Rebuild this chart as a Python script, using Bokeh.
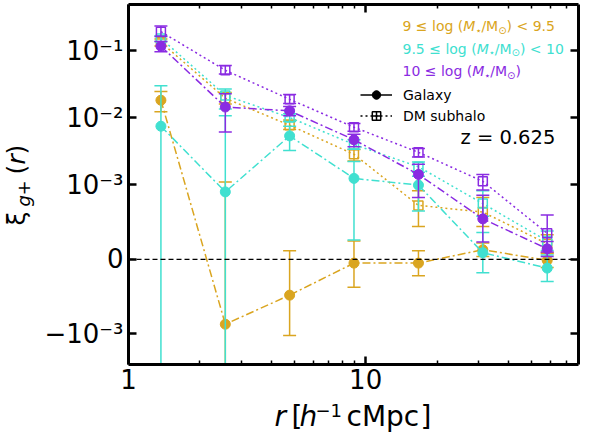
import numpy as np
from bokeh.plotting import figure
from bokeh.layouts import row, column
from bokeh.models import (ColumnDataSource, FixedTicker, LogAxis, LinearAxis, Label,
                          Legend, LegendItem, Span, Range1d, CustomJSTickFormatter)
from bokeh.embed import file_html
from bokeh.resources import INLINE

# separation bins, h^-1 cMpc
r = [1.37, 2.56, 4.78, 8.93, 16.7, 31.2, 58.3]

# 9 <= log M* < 9.5
gold_gal = [0.0183, -0.00087, -0.00048, -0.00005, -0.00005, 0.00013, -0.000013]
gold_gal_lo = [0.0123, -0.00284, -0.00106, -0.000375, -0.00022, 0.00004, -0.00011]
gold_gal_hi = [0.0247, 0.0011, 0.000117, 0.000246, 0.000117, 0.00022, 0.00008]
gold_dm = [0.134, 0.0196, 0.00774, 0.00286, 0.000725, 0.000635, 0.00021]
gold_dm_lo = [0.118, 0.0161, 0.0067, 0.00228, 0.00044, 0.00044, 0.00009]
gold_dm_hi = [0.150, 0.0239, 0.0093, 0.00338, 0.00092, 0.00083, 0.00033]

# 9.5 <= log M* < 10
turq_gal = [0.0075, 0.000906, 0.00538, 0.00125, 0.000997, 0.00009, -0.000117]
turq_gal_lo = [-0.0151, -0.0083, 0.00327, 0.00026, 0.00065, -0.00018, -0.000298]
turq_gal_hi = [0.0301, 0.0107, 0.0075, 0.00224, 0.00135, 0.00036, 0.00006]
turq_dm = [0.153, 0.0216, 0.0101, 0.0040, 0.00186, 0.00075, 0.000246]
turq_dm_lo = [0.138, 0.0135, 0.0088, 0.0034, 0.00155, 0.00058, 0.00012]
turq_dm_hi = [0.168, 0.027, 0.0115, 0.0047, 0.0022, 0.00092, 0.00038]

# 10 <= log M*
purp_gal = [0.117, 0.0145, 0.0127, 0.00471, 0.00143, 0.000544, 0.000142]
purp_gal_lo = [0.097, 0.00614, 0.0107, 0.0037, 0.00083, 0.000233, 0.00004]
purp_gal_hi = [0.137, 0.0229, 0.0147, 0.0057, 0.00203, 0.00086, 0.00024]
purp_dm = [0.193, 0.0512, 0.0189, 0.00724, 0.00306, 0.00113, 0.00035]
purp_dm_lo = [0.163, 0.0449, 0.0163, 0.0063, 0.0026, 0.00093, 0.0001]
purp_dm_hi = [0.235, 0.0604, 0.0222, 0.0082, 0.0035, 0.00143, 0.000596]

ytick_vals = [-1e-3, 0, 1e-3, 1e-2, 1e-1]
ytick_text = ["−10⁻³", "0", "10⁻³", "10⁻²", "10⁻¹"]

GOLD = "#DAA520"
TURQ = "#40E0D0"
PURP = "#8A2BE2"
FONT = "DejaVu Sans"

LINTHRESH = 1e-3
LINSCALE = 1.0 / (1.0 - 1.0 / 10.0)


def symlog(v):
    # same as matplotlib's symlog (base 10, linthresh 1e-3, linscale 1)
    v = np.asarray(v, dtype=float)
    a = np.abs(v)
    big = np.sign(v) * (LINSCALE + np.log10(np.maximum(a, LINTHRESH) / LINTHRESH))
    return np.where(a <= LINTHRESH, v / LINTHRESH * LINSCALE, big)


p = figure(width=542, height=400, x_axis_type="log",
           x_range=Range1d(1, 79),
           y_range=Range1d(float(symlog(-2.86e-3)), float(symlog(0.49))),
           output_backend="svg", toolbar_location=None,
           min_border_left=88, min_border_right=4, min_border_top=4, min_border_bottom=36)
p.grid.visible = False
p.outline_line_color = None

xticker = FixedTicker(ticks=[1, 10], minor_ticks=[2, 3, 4, 5, 6, 7, 8, 9, 20, 30, 40, 50, 60, 70])
ypos = [float(t) for t in symlog(ytick_vals)]
yticker = FixedTicker(ticks=ypos, minor_ticks=[])
yfmt = CustomJSTickFormatter(args=dict(pos=ypos, lab=ytick_text), code="""
for (let i = 0; i < pos.length; i++) { if (Math.abs(tick - pos[i]) < 1e-6) { return lab[i] } }
return ""
""")
xfmt = CustomJSTickFormatter(code="return String(Math.round(tick))")
blank = CustomJSTickFormatter(code="return ''")

p.add_layout(LogAxis(), "above")
p.add_layout(LinearAxis(), "right")
for ax in p.xaxis:
    ax.ticker = xticker
    ax.formatter = xfmt
for ax in p.yaxis:
    ax.ticker = yticker
    ax.formatter = yfmt
for ax in p.axis:
    ax.axis_line_width = 3
    ax.major_tick_in = 8
    ax.major_tick_out = 0
    ax.major_tick_line_width = 2.5
    ax.minor_tick_in = 4
    ax.minor_tick_out = 0
    ax.minor_tick_line_width = 1.5
    ax.major_label_text_font = FONT
    ax.major_label_text_font_size = "26px"
    ax.major_label_text_color = "black"
    ax.major_label_standoff = 5
p.above[0].formatter = blank
p.above[0].major_label_standoff = 0
p.right[0].formatter = blank
p.right[0].major_label_standoff = 0
p.below[0].major_label_standoff = 4

p.add_layout(Span(location=0, dimension="width", line_color="black", line_dash="5 3", line_width=1.3))


def series(ys, lo, hi, color, galaxy):
    src = ColumnDataSource(dict(x=r, y=symlog(ys), lo=symlog(lo), hi=symlog(hi)))
    dash = "8 3 2 3" if galaxy else "2 3"
    p.line("x", "y", source=src, line_color=color, line_width=1.5, line_dash=dash)
    p.segment("x", "lo", "x", "hi", source=src, line_color=color, line_width=1.5)
    p.scatter("x", "lo", source=src, marker="dash", size=13, line_color=color, line_width=1.5)
    p.scatter("x", "hi", source=src, marker="dash", size=13, line_color=color, line_width=1.5)
    if galaxy:
        p.scatter("x", "y", source=src, marker="circle", size=10, fill_color=color, line_color=color)
    else:
        p.scatter("x", "y", source=src, marker="square", size=9, fill_alpha=0,
                  line_color=color, line_width=1.5)


series(gold_gal, gold_gal_lo, gold_gal_hi, GOLD, True)
series(gold_dm, gold_dm_lo, gold_dm_hi, GOLD, False)
series(turq_gal, turq_gal_lo, turq_gal_hi, TURQ, True)
series(turq_dm, turq_dm_lo, turq_dm_hi, TURQ, False)
series(purp_gal, purp_gal_lo, purp_gal_hi, PURP, True)
series(purp_dm, purp_dm_lo, purp_dm_hi, PURP, False)

# legend handles (black proxies, nothing drawn in the frame)
proxy = ColumnDataSource(dict(x=[1.0], y=[np.nan]))
gl = p.line("x", "y", source=proxy, line_color="black", line_width=1.5)
gb = p.scatter("x", "y", source=proxy, marker="cross", line_color="black", line_width=1.5)
gc = p.scatter("x", "y", source=proxy, marker="circle", fill_color="black", line_color="black")
dl = p.line("x", "y", source=proxy, line_color="black", line_width=1.5, line_dash="2 3")
db = p.scatter("x", "y", source=proxy, marker="cross", line_color="black", line_width=1.5)
ds = p.scatter("x", "y", source=proxy, marker="square", fill_alpha=0, line_color="black", line_width=1.5)
leg = Legend(items=[LegendItem(label="Galaxy", renderers=[gl, gb, gc]),
                    LegendItem(label="DM subhalo", renderers=[dl, db, ds])],
             location=(232, 238), padding=0, margin=0, spacing=0,
             glyph_width=32, glyph_height=21, label_height=21, label_standoff=11,
             label_text_font=FONT, label_text_font_size="14px", label_text_color="black",
             border_line_alpha=0, background_fill_alpha=0)
p.add_layout(leg)

W = {' ': .318, '.': .318, '≤': .838, '<': .838, '(': .39, ')': .39, '/': .337,
     'M': .863, 'l': .278, 'o': .612, 'g': .635, '⋆': .6, '⊙': .838}
DROP = 0.3  # bokeh sets the alphabetic baseline this much (x font size) under the anchor


def tw(s, size):
    return sum(W.get(c, .636) for c in s) * size


def put(fig, text, x, y, size, color="black", style="normal", angle=0.0, baseline="alphabetic"):
    fig.add_layout(Label(x=x, y=y, x_units="screen", y_units="screen", text=text,
                         text_font=FONT, text_font_size=f"{size}px", text_font_style=style,
                         text_color=color, angle=angle, text_align="left", text_baseline=baseline))


def rich(pieces, x, y, color):
    for txt, size, style, dy in pieces:
        put(p, txt, x, y + dy + DROP * size, size, color, style)
        x += tw(txt, size)


mass_labels = [("9 ≤ log (", ") < 9.5", GOLD, 334),
               ("9.5 ≤ log (", ") < 10", TURQ, 311.6),
               ("10 ≤ log (", ")", PURP, 289.3)]
for pre, post, col, yb in mass_labels:
    rich([(pre, 14, "normal", 0), ("M", 14, "italic", 0), ("⋆", 10, "normal", -3),
          ("/M", 14, "normal", 0), ("⊙", 10, "normal", -3), (post, 14, "normal", 0)],
         274, yb, col)

put(p, "z = 0.625", 332, 227, 19.5, baseline="middle")


def text_strip(w, h):
    # plain canvas that only carries an axis title
    f = figure(width=w, height=h, x_range=Range1d(0, w), y_range=Range1d(0, h),
               x_axis_location=None, y_axis_location=None, min_border=0,
               output_backend="svg", toolbar_location=None)
    f.grid.visible = False
    f.outline_line_color = None
    return f


# y label, rotated (baseline at x=23, subscript at x=28)
ylab = text_strip(40, 432)
rot = np.pi / 2
put(ylab, "ξ", 23 - DROP * 25, 207, 25, angle=rot)
put(ylab, "g", 28 - DROP * 18, 226, 18, style="italic", angle=rot)
put(ylab, "+", 28 - DROP * 18, 237, 18, angle=rot)
put(ylab, "(", 23 - DROP * 25, 258, 25, angle=rot)
put(ylab, "r", 23 - DROP * 25, 268, 25, style="italic", angle=rot)
put(ylab, ")", 23 - DROP * 25, 278, 25, angle=rot)

# x label; this strip's frame is lined up with the main frame by the column
xlab = text_strip(542, 32)
put(xlab, "r", 146, 8 + DROP * 28, 28, style="italic")
put(xlab, "[", 163, 8 + DROP * 28, 28)
put(xlab, "h", 171, 8 + DROP * 28, 28, style="italic")
put(xlab, "−1", 187, 16.5 + DROP * 18, 18)
put(xlab, "cMpc", 218, 8 + DROP * 28, 28)
put(xlab, "]", 292, 8 + DROP * 28, 28)

page = row(ylab, column(p, xlab))
open("out.html", "w").write(file_html(page, INLINE))
